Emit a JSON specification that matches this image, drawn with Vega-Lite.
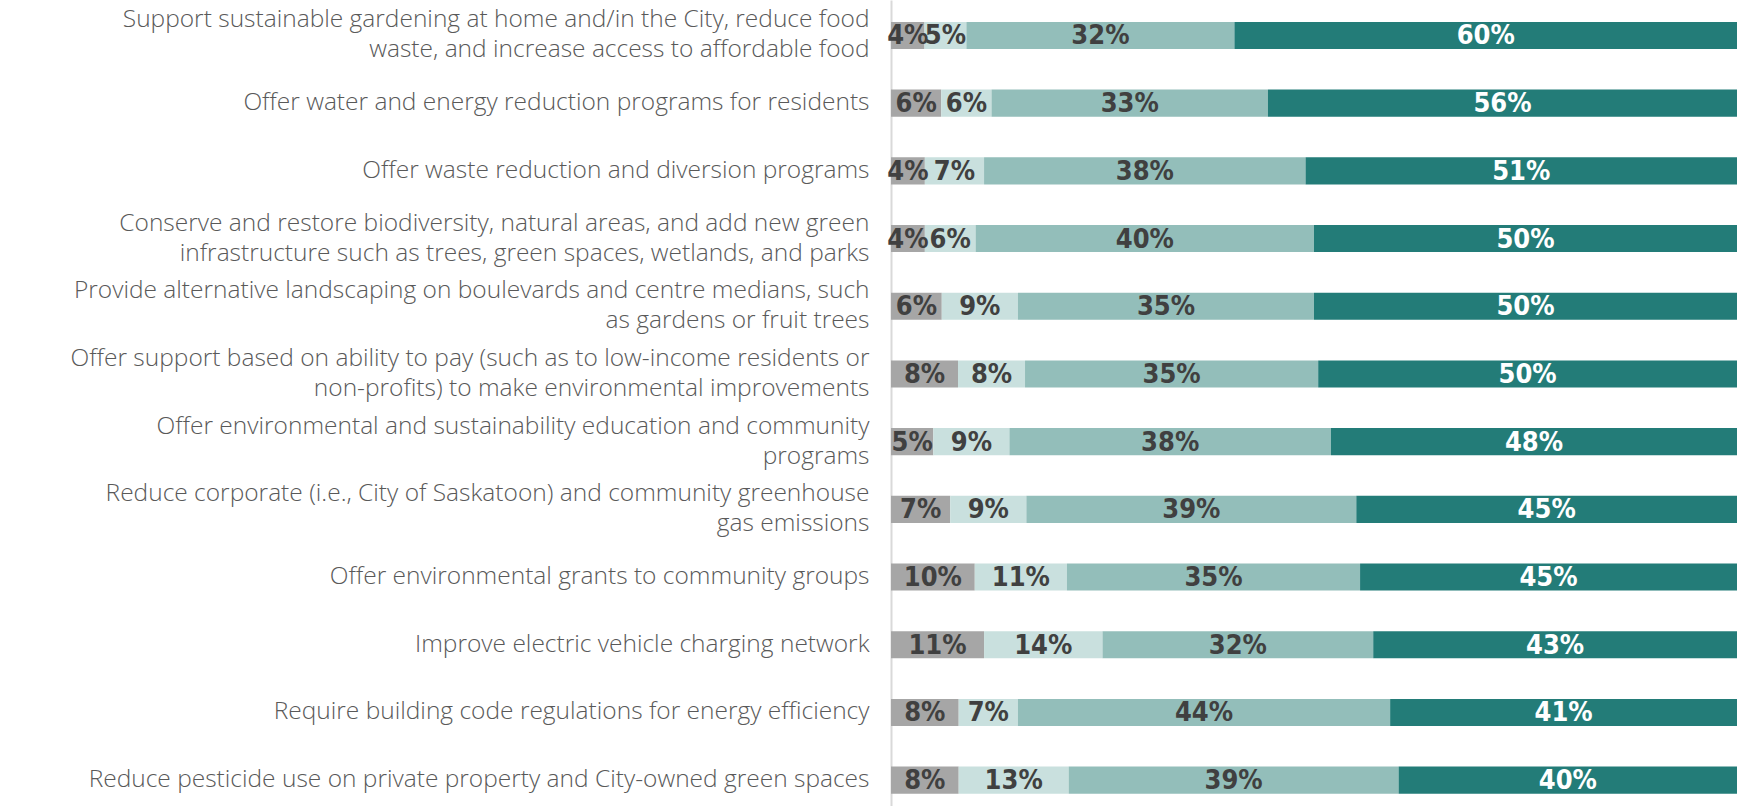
{
  "$schema": "https://vega.github.io/schema/vega-lite/v6.json",
  "width": 846,
  "height": 806,
  "autosize": {"type": "none"},
  "padding": {"left": 891, "top": 0, "right": 0, "bottom": 0},
  "background": "white",
  "config": {"view": {"stroke": null}},
  "data": {
    "values": [
      {"item": "Support sustainable gardening at home and/in the City, reduce food|waste, and increase access to affordable food", "cat": "Not at all important", "ord": 1, "value": 4},
      {"item": "Support sustainable gardening at home and/in the City, reduce food|waste, and increase access to affordable food", "cat": "Not very important", "ord": 2, "value": 5},
      {"item": "Support sustainable gardening at home and/in the City, reduce food|waste, and increase access to affordable food", "cat": "Somewhat important", "ord": 3, "value": 32},
      {"item": "Support sustainable gardening at home and/in the City, reduce food|waste, and increase access to affordable food", "cat": "Very important", "ord": 4, "value": 60},
      {"item": "Offer water and energy reduction programs for residents", "cat": "Not at all important", "ord": 1, "value": 6},
      {"item": "Offer water and energy reduction programs for residents", "cat": "Not very important", "ord": 2, "value": 6},
      {"item": "Offer water and energy reduction programs for residents", "cat": "Somewhat important", "ord": 3, "value": 33},
      {"item": "Offer water and energy reduction programs for residents", "cat": "Very important", "ord": 4, "value": 56},
      {"item": "Offer waste reduction and diversion programs", "cat": "Not at all important", "ord": 1, "value": 4},
      {"item": "Offer waste reduction and diversion programs", "cat": "Not very important", "ord": 2, "value": 7},
      {"item": "Offer waste reduction and diversion programs", "cat": "Somewhat important", "ord": 3, "value": 38},
      {"item": "Offer waste reduction and diversion programs", "cat": "Very important", "ord": 4, "value": 51},
      {"item": "Conserve and restore biodiversity, natural areas, and add new green|infrastructure such as trees, green spaces, wetlands, and parks", "cat": "Not at all important", "ord": 1, "value": 4},
      {"item": "Conserve and restore biodiversity, natural areas, and add new green|infrastructure such as trees, green spaces, wetlands, and parks", "cat": "Not very important", "ord": 2, "value": 6},
      {"item": "Conserve and restore biodiversity, natural areas, and add new green|infrastructure such as trees, green spaces, wetlands, and parks", "cat": "Somewhat important", "ord": 3, "value": 40},
      {"item": "Conserve and restore biodiversity, natural areas, and add new green|infrastructure such as trees, green spaces, wetlands, and parks", "cat": "Very important", "ord": 4, "value": 50},
      {"item": "Provide alternative landscaping on boulevards and centre medians, such|as gardens or fruit trees", "cat": "Not at all important", "ord": 1, "value": 6},
      {"item": "Provide alternative landscaping on boulevards and centre medians, such|as gardens or fruit trees", "cat": "Not very important", "ord": 2, "value": 9},
      {"item": "Provide alternative landscaping on boulevards and centre medians, such|as gardens or fruit trees", "cat": "Somewhat important", "ord": 3, "value": 35},
      {"item": "Provide alternative landscaping on boulevards and centre medians, such|as gardens or fruit trees", "cat": "Very important", "ord": 4, "value": 50},
      {"item": "Offer support based on ability to pay (such as to low-income residents or|non-profits) to make environmental improvements", "cat": "Not at all important", "ord": 1, "value": 8},
      {"item": "Offer support based on ability to pay (such as to low-income residents or|non-profits) to make environmental improvements", "cat": "Not very important", "ord": 2, "value": 8},
      {"item": "Offer support based on ability to pay (such as to low-income residents or|non-profits) to make environmental improvements", "cat": "Somewhat important", "ord": 3, "value": 35},
      {"item": "Offer support based on ability to pay (such as to low-income residents or|non-profits) to make environmental improvements", "cat": "Very important", "ord": 4, "value": 50},
      {"item": "Offer environmental and sustainability education and community|programs", "cat": "Not at all important", "ord": 1, "value": 5},
      {"item": "Offer environmental and sustainability education and community|programs", "cat": "Not very important", "ord": 2, "value": 9},
      {"item": "Offer environmental and sustainability education and community|programs", "cat": "Somewhat important", "ord": 3, "value": 38},
      {"item": "Offer environmental and sustainability education and community|programs", "cat": "Very important", "ord": 4, "value": 48},
      {"item": "Reduce corporate (i.e., City of Saskatoon) and community greenhouse|gas emissions", "cat": "Not at all important", "ord": 1, "value": 7},
      {"item": "Reduce corporate (i.e., City of Saskatoon) and community greenhouse|gas emissions", "cat": "Not very important", "ord": 2, "value": 9},
      {"item": "Reduce corporate (i.e., City of Saskatoon) and community greenhouse|gas emissions", "cat": "Somewhat important", "ord": 3, "value": 39},
      {"item": "Reduce corporate (i.e., City of Saskatoon) and community greenhouse|gas emissions", "cat": "Very important", "ord": 4, "value": 45},
      {"item": "Offer environmental grants to community groups", "cat": "Not at all important", "ord": 1, "value": 10},
      {"item": "Offer environmental grants to community groups", "cat": "Not very important", "ord": 2, "value": 11},
      {"item": "Offer environmental grants to community groups", "cat": "Somewhat important", "ord": 3, "value": 35},
      {"item": "Offer environmental grants to community groups", "cat": "Very important", "ord": 4, "value": 45},
      {"item": "Improve electric vehicle charging network", "cat": "Not at all important", "ord": 1, "value": 11},
      {"item": "Improve electric vehicle charging network", "cat": "Not very important", "ord": 2, "value": 14},
      {"item": "Improve electric vehicle charging network", "cat": "Somewhat important", "ord": 3, "value": 32},
      {"item": "Improve electric vehicle charging network", "cat": "Very important", "ord": 4, "value": 43},
      {"item": "Require building code regulations for energy efficiency\u00a0", "cat": "Not at all important", "ord": 1, "value": 8},
      {"item": "Require building code regulations for energy efficiency\u00a0", "cat": "Not very important", "ord": 2, "value": 7},
      {"item": "Require building code regulations for energy efficiency\u00a0", "cat": "Somewhat important", "ord": 3, "value": 44},
      {"item": "Require building code regulations for energy efficiency\u00a0", "cat": "Very important", "ord": 4, "value": 41},
      {"item": "Reduce pesticide use on private property and City-owned green spaces", "cat": "Not at all important", "ord": 1, "value": 8},
      {"item": "Reduce pesticide use on private property and City-owned green spaces", "cat": "Not very important", "ord": 2, "value": 13},
      {"item": "Reduce pesticide use on private property and City-owned green spaces", "cat": "Somewhat important", "ord": 3, "value": 39},
      {"item": "Reduce pesticide use on private property and City-owned green spaces", "cat": "Very important", "ord": 4, "value": 40}
    ]
  },
  "transform": [
    {"stack": "value", "groupby": ["item"], "sort": [{"field": "ord", "order": "ascending"}], "offset": "normalize", "as": ["v0", "v1"]},
    {"calculate": "(datum.v0 + datum.v1) / 2", "as": "vmid"},
    {"calculate": "datum.value + '%'", "as": "lbl"}
  ],
  "encoding": {
    "y": {
      "field": "item",
      "type": "nominal",
      "sort": null,
      "scale": {"paddingInner": 0.6, "paddingOuter": 0.253, "align": 0.64},
      "axis": {
        "title": null,
        "ticks": false,
        "domain": true,
        "domainColor": "#D9D9D9",
        "domainWidth": 2,
        "labelExpr": "split(datum.label, '|')",
        "labelFont": "Open Sans",
        "labelFontWeight": 300,
        "labelFontSize": 24.5,
        "labelColor": "#595959",
        "labelLineHeight": 30,
        "labelPadding": 22,
        "labelLimit": 900,
        "labelOffset": {"condition": {"test": "indexof(datum.value, '|') >= 0", "value": -15}, "value": 0}
      }
    }
  },
  "layer": [
    {
      "mark": {"type": "bar"},
      "encoding": {
        "x": {"field": "v0", "type": "quantitative", "scale": {"domain": [0, 1], "nice": false}, "axis": null},
        "x2": {"field": "v1"},
        "color": {
          "field": "cat",
          "type": "nominal",
          "scale": {
            "domain": ["Not at all important", "Not very important", "Somewhat important", "Very important"],
            "range": ["#A6A6A6", "#C9E0DE", "#93BEBA", "#237C78"]
          },
          "legend": null
        }
      }
    },
    {
      "mark": {"type": "text", "font": "DejaVu Sans Condensed, Liberation Sans Narrow, sans-serif", "fontWeight": "bold", "fontSize": 27, "baseline": "middle", "align": "center", "dy": 1},
      "encoding": {
        "x": {"field": "vmid", "type": "quantitative"},
        "text": {"field": "lbl"},
        "color": {
          "condition": {"test": "datum.ord == 4", "value": "white"},
          "value": "#404040"
        }
      }
    }
  ]
}
